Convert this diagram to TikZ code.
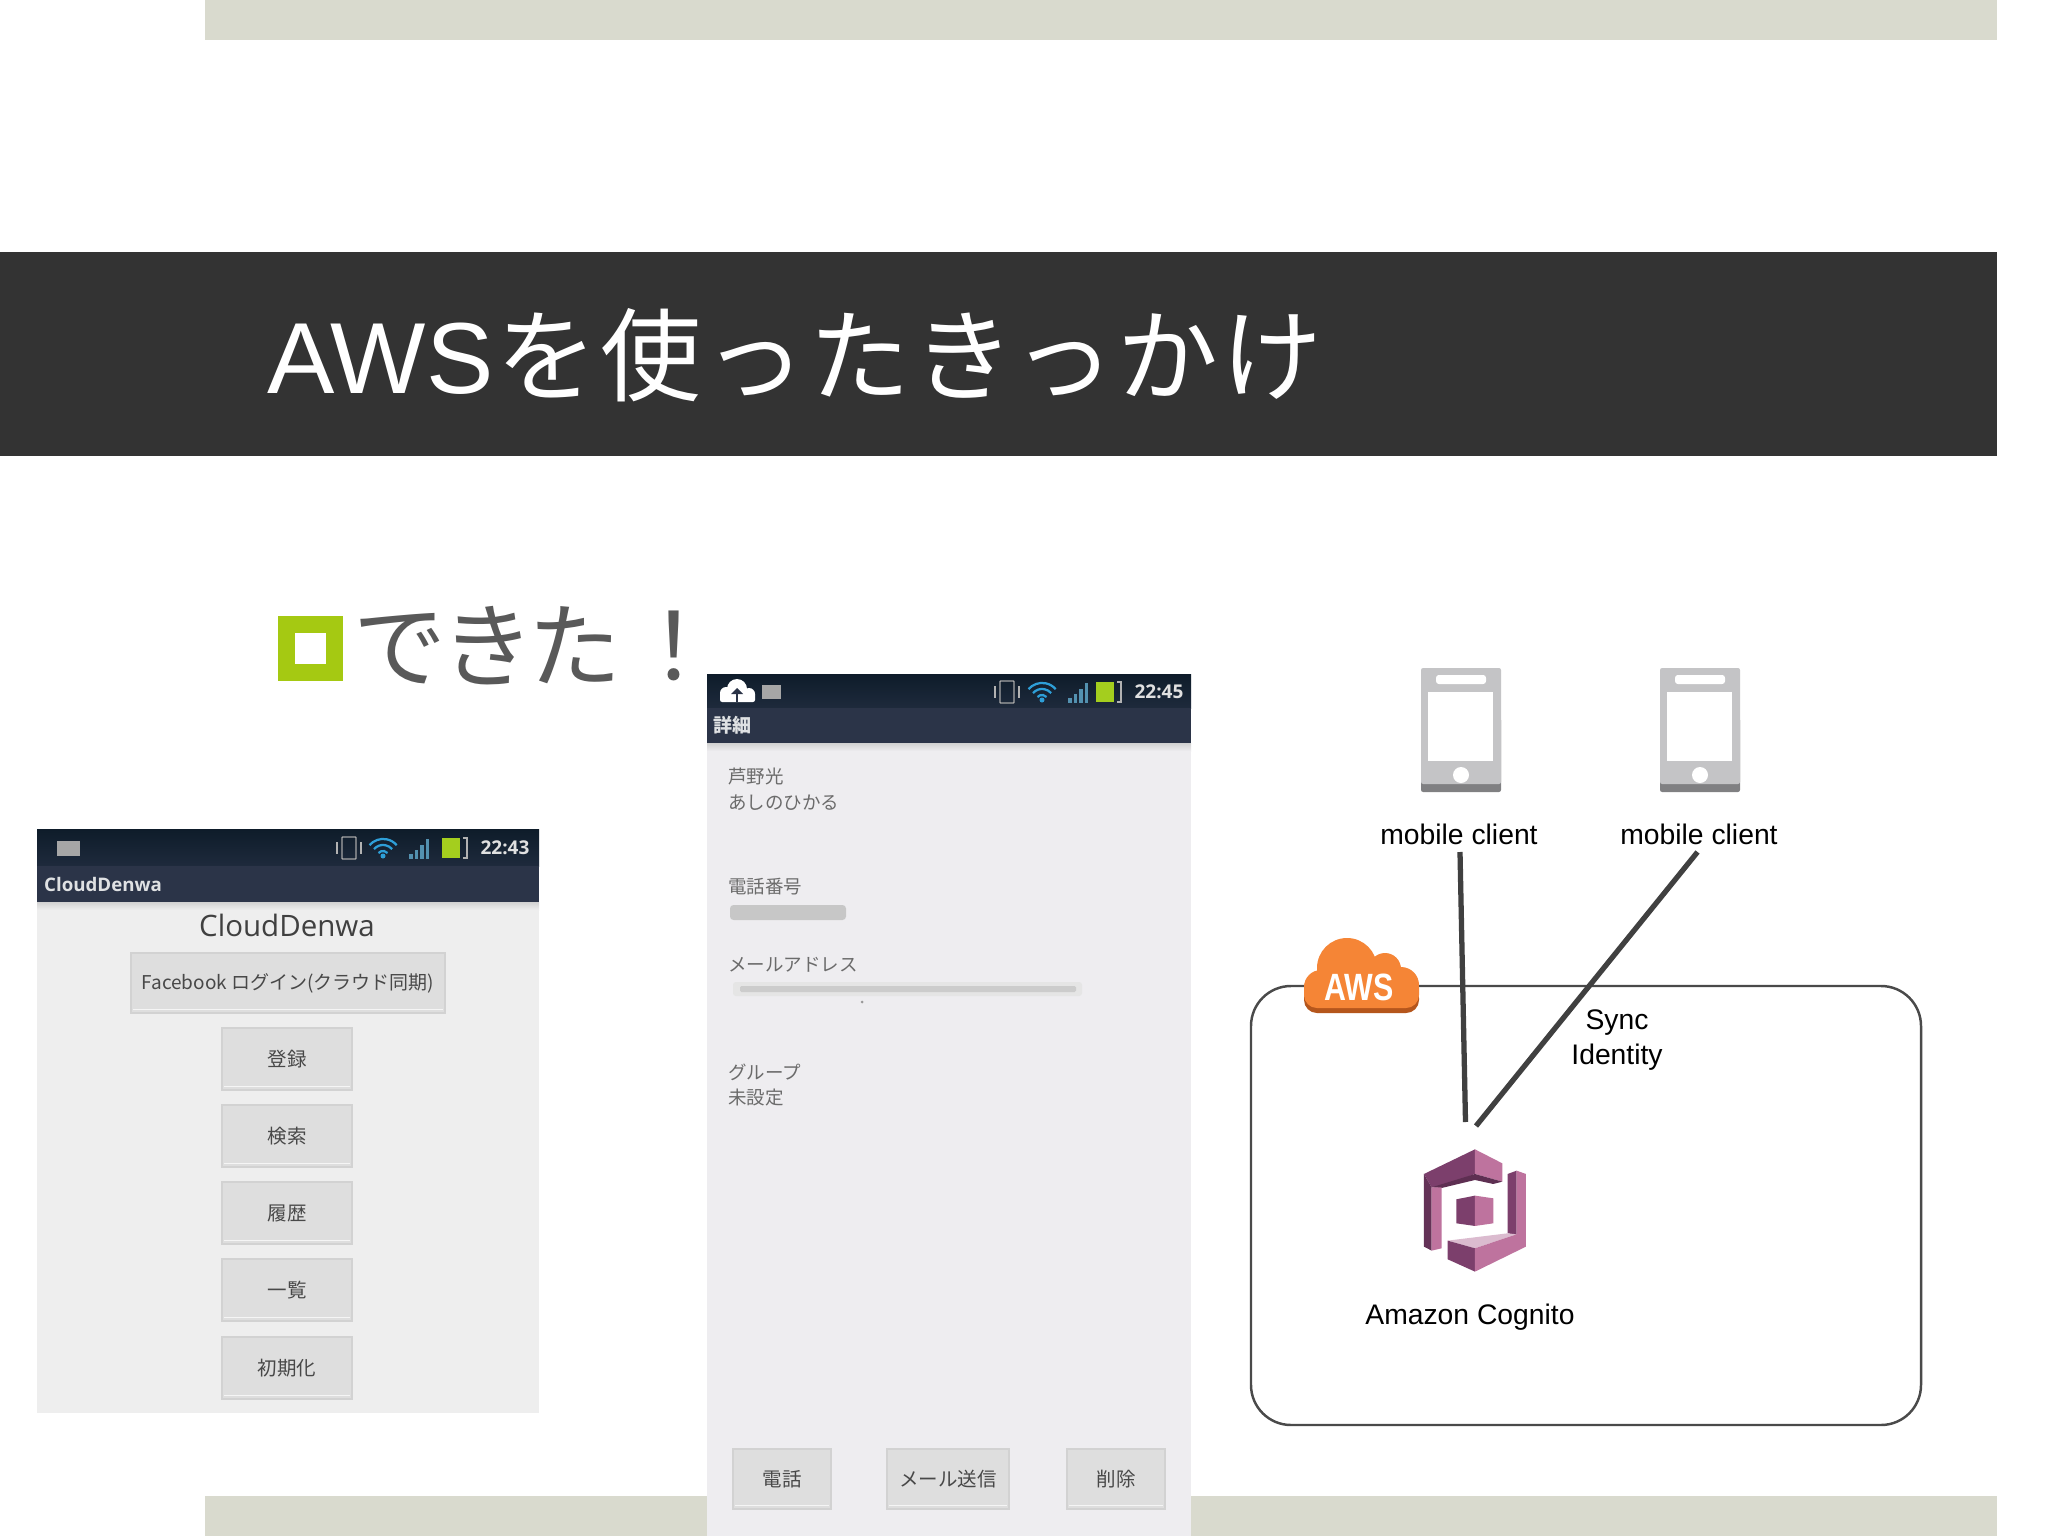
\documentclass[tikz,border=0pt]{standalone}
\usepackage{fontspec}
\setmainfont{Liberation Sans}
\newfontfamily\jp{Noto Sans CJK JP}
\newfontfamily\jptitle[LetterSpace=3]{Noto Sans CJK JP}
\newfontfamily\jpbody[LetterSpace=-5.5]{Noto Sans CJK JP}
\newfontfamily\droid{Open Sans}
\usetikzlibrary{shadings,calc}
\definecolor{band}{HTML}{D9DACE}
\definecolor{titlebar}{HTML}{333333}
\definecolor{bulletgreen}{HTML}{A5C912}
\definecolor{bodygrey}{HTML}{595959}
\definecolor{shotbg}{HTML}{EEEEEE}
\definecolor{shotbgb}{HTML}{EEEDF0}
\definecolor{stattop}{HTML}{0E1C2A}
\definecolor{statbot}{HTML}{1E2A3C}
\definecolor{actbar}{HTML}{2B3448}
\definecolor{btnfill}{HTML}{DEDEDE}
\definecolor{btnedge}{HTML}{D2D2D2}
\definecolor{btntext}{HTML}{484848}
\definecolor{wifiblue}{HTML}{2E9FD8}
\definecolor{battgreen}{HTML}{A4CE1E}
\definecolor{phonegrey}{HTML}{C4C4C6}
\definecolor{phonedark}{HTML}{808082}
\definecolor{linedark}{HTML}{404040}
\definecolor{boxline}{HTML}{4A4A4A}
\definecolor{awsorange}{HTML}{F58536}
\definecolor{awsdark}{HTML}{B5561C}
\definecolor{cogdark}{HTML}{7C3F6C}
\definecolor{cogdeep}{HTML}{5E2F52}
\definecolor{coglight}{HTML}{BE739E}
\definecolor{cogpale}{HTML}{DBBBCF}
\newcommand\fpx[1]{\fontsize{\fpeval{#1*1.4226}}{\fpeval{#1*1.42*1.2}}\selectfont}
% name, cx, cy, w, h, font px, text
\newcommand\shotbtn[7]{%
  \node (#1) [shotbutton, minimum width=#4*0.05cm, minimum height=#5*0.05cm, font=\jp\fpx{#6}] at (#2,#3) {#7};
  \draw[white!70!btnfill, line width=2pt] ($(#1.south west)+(3,-4)$) -- ($(#1.south east)+(-3,-4)$);
}
% x of vibrate, wifi, signal, battery left; y centre
\newcommand\staticons[5]{%
  \draw[gray!70, line width=2pt, rounded corners=1pt] (#1-7,#5-11) rectangle (#1+7,#5+11);
  \draw[gray!60, line width=1.5pt] (#1-12,#5-6) -- (#1-12,#5+6) (#1+12,#5-6) -- (#1+12,#5+6);
  \foreach \r in {6,12,18}
    \draw[wifiblue, line width=3.2pt] (#2-\r*0.75,#5+9-\r*0.66) arc[start angle=221, end angle=319, radius=\r];
  \fill[wifiblue] (#2,#5+8) circle (2.5);
  \foreach \i/\h in {0/5,1/9,2/14,3/20}
    \fill[wifiblue!55!gray] (#3+\i*5.5-9,#5+11) rectangle ++(3.5,-\h);
  \fill[battgreen] (#4,#5-10) rectangle ++(18,20);
  \draw[gray!60, line width=1.5pt] (#4+21,#5-10) -- (#4+25,#5-10) -- (#4+25,#5+10) -- (#4+21,#5+10);
}
\tikzset{
  shotbutton/.style={draw=btnedge, line width=1.5pt, fill=btnfill, text=btntext, inner sep=0pt},
  blurtext/.style={text=black!58, font=\jp\fpx{18.5}, anchor=west, inner sep=0pt},
  barlabel/.style={text=white!85!actbar, font=\droid\bfseries\fpx{18.7}, inner sep=0pt},
  timelabel/.style={text=white!88!black, font=\droid\bfseries\fpx{19}, inner sep=0pt},
  difflabel/.style={text=black, font=\fpx{28.3}, inner sep=0pt, align=center},
  syncline/.style={draw=linedark, line width=7.5pt},
  phoneicon/.pic={
    \fill[phonedark, rounded corners=3] (-40,50) rectangle (40,124);
    \fill[phonegrey, rounded corners=3] (-40,0) rectangle (40,116);
    \fill[white] (-33,24) rectangle (32,93);
    \fill[white, rounded corners=4] (-25,7) rectangle (25,16);
    \fill[white] (0,107) circle (8);
  }
}
\begin{document}
\begin{tikzpicture}[x=0.05cm,y=-0.05cm]
\useasboundingbox (0,0) rectangle (2048,1536);
\fill[white] (0,0) rectangle (2048,1536);
% slide bands
\fill[band] (205,0) rectangle (1997,40);
\fill[band] (205,1496) rectangle (1997,1536);
\fill[titlebar] (0,252) rectangle (1997,456);
\node (title) [anchor=base west, inner sep=0pt, text=white, font=\fpx{101}] at (267,393) {AWS{\kern 5pt\jptitle を使ったきっかけ}};
% bullet
\fill[bulletgreen] (278,616) rectangle (343,681);
\fill[white] (295,633) rectangle (326,664);
\node (body) [anchor=base west, inner sep=0pt, text=bodygrey, font=\fpx{93}] at (353,680) {{\jpbody できた}{\kern 8pt\jp ！}};

% left screenshot
\fill[shotbg] (37,829) rectangle (539,1413);
\shade[top color=black!18, bottom color=shotbg] (37,902) rectangle (539,910);
\shade[top color=stattop, bottom color=statbot] (37,829) rectangle (539,866);
\fill[actbar] (37,866) rectangle (539,902);
\fill[gray!70] (57,841) rectangle (80,856);
\staticons{349}{383}{418}{442}{848}
\node (lefttime) [timelabel] at (505,848) {22:43};
\node (leftbar) [barlabel, anchor=west] at (44,884) {CloudDenwa};
\node (lefthead) [inner sep=0pt, text=black!75, font=\droid\fpx{29.5}] at (287,925) {CloudDenwa};
\shotbtn{fb}{288}{983}{314}{60}{19}{Facebook ログイン(クラウド同期)}
\shotbtn{reg}{287}{1059}{130}{62}{19.5}{登録}
\shotbtn{find}{287}{1136}{130}{62}{19.5}{検索}
\shotbtn{hist}{287}{1213}{130}{62}{19.5}{履歴}
\shotbtn{list}{287}{1290}{130}{62}{19.5}{一覧}
\shotbtn{init}{287}{1368}{130}{62}{19.5}{初期化}

% middle screenshot
\fill[shotbgb] (707,674) rectangle (1191,1536);
\shade[top color=black!18, bottom color=shotbgb] (707,743) rectangle (1191,751);
\shade[top color=stattop, bottom color=statbot] (707,674) rectangle (1191,708);
\fill[actbar] (707,708) rectangle (1191,743);
\fill[white] (726,693) circle (6) (737,689) circle (10) (749,694) circle (6);
\fill[white, rounded corners=3] (720,692) rectangle (755,702);
\fill[actbar] (736,692) rectangle (738,702);
\fill[actbar] (731,694) -- (737,688) -- (743,694) -- cycle;
\fill[gray!70] (762,685) rectangle (781,699);
\staticons{1007}{1042}{1077}{1096}{692}
\node (midtime) [timelabel] at (1159,692) {22:45};
\node (midbar) [barlabel, anchor=west, font=\jp\bfseries\fpx{19}] at (713,725) {詳細};
\node (n1) [blurtext] at (728,777) {芦野光};
\node (n2) [blurtext] at (728,803) {あしのひかる};
\node (n3) [blurtext] at (728,887) {電話番号};
\node (n4) [blurtext] at (728,965) {メールアドレス};
\node (n5) [blurtext] at (728,1072) {グループ};
\node (n6) [blurtext] at (728,1098) {未設定};
\fill[black!22, rounded corners=5] (730,905) rectangle (846,920);
\fill[black!10, rounded corners=4] (733,982) rectangle (1082,996);
\fill[black!20, rounded corners=2] (740,986) rectangle (1076,992);
\fill[black!40] (862,1002) circle (1.5);
\shotbtn{tel}{782}{1479}{98}{60}{19.5}{電話}
\shotbtn{mail}{948}{1479}{122}{60}{19.5}{メール送信}
\shotbtn{del}{1116}{1479}{98}{60}{19.5}{削除}

% architecture diagram
\node (cloudbox) [draw=boxline, line width=3.5pt, rounded corners=40*0.05cm, minimum width=670*0.05cm, minimum height=439*0.05cm, inner sep=0pt] at (1586,1205.5) {};
\pic at (1461,668) {phoneicon};
\pic at (1700,668) {phoneicon};
\node (mc1) [difflabel] at (1459,834.5) {mobile client};
\node (mc2) [difflabel] at (1699,834.5) {mobile client};
\node (sync) [difflabel] at (1617,1040) {Sync\\[1pt]Identity};
\node (cognitolabel) [difflabel] at (1470,1317) {Amazon Cognito};
\coordinate (m1out) at (1460,852);
\coordinate (m2out) at (1697.5,852);
\coordinate (cogin1) at (1465.5,1122);
\coordinate (cogin2) at (1476,1126);
\draw[syncline] (m1out) -- (cogin1);
\draw[syncline] (m2out) -- (cogin2);
% AWS cloud
\fill[awsdark, rounded corners=13*0.05cm] (1304,985) rectangle (1419,1013);
\fill[awsorange, rounded corners=13*0.05cm] (1304,975) rectangle (1419,1008);
\fill[awsorange] (1347,968) circle (30) (1385,969) circle (16) (1401,985) circle (18) (1321,987) circle (17);
\node (aws) [inner sep=0pt, text=white, xscale=0.8, font=\bfseries\fpx{38}] at (1359,987) {AWS};
% Cognito icon
\begin{scope}[shift={(1340,1100)},x=0.016667cm,y=-0.016667cm]
  \fill[cogdark] (252,222) -- (405,148) -- (405,222) -- (300,262) -- (275,262) -- cycle;
  \fill[coglight] (405,148) -- (487,190) -- (487,245) -- (405,222) -- cycle;
  \fill[cogdeep] (405,222) -- (487,245) -- (460,252) -- (405,240) -- (305,264) -- (275,262) -- cycle;
  \fill[cogdeep!80!cogdark] (252,222) -- (275,262) -- (275,452) -- (252,440) -- cycle;
  \fill[coglight] (275,262) -- (305,262) -- (305,445) -- (275,452) -- cycle;
  \fill[cogdark] (349,298) -- (405,287) -- (405,378) -- (349,370) -- cycle;
  \fill[coglight] (405,287) -- (460,295) -- (460,370) -- (405,378) -- cycle;
  \fill[cogdark] (503,222) -- (530,212) -- (530,405) -- (503,400) -- cycle;
  \fill[coglight] (530,212) -- (558,222) -- (558,440) -- (530,405) -- cycle;
  \fill[cogpale] (323,422) -- (503,400) -- (530,403) -- (405,445) -- cycle;
  \fill[cogdark] (323,422) -- (405,445) -- (405,515) -- (323,478) -- cycle;
  \fill[coglight] (405,445) -- (530,403) -- (558,403) -- (558,440) -- (405,515) -- cycle;
\end{scope}
\end{tikzpicture}
\end{document}
